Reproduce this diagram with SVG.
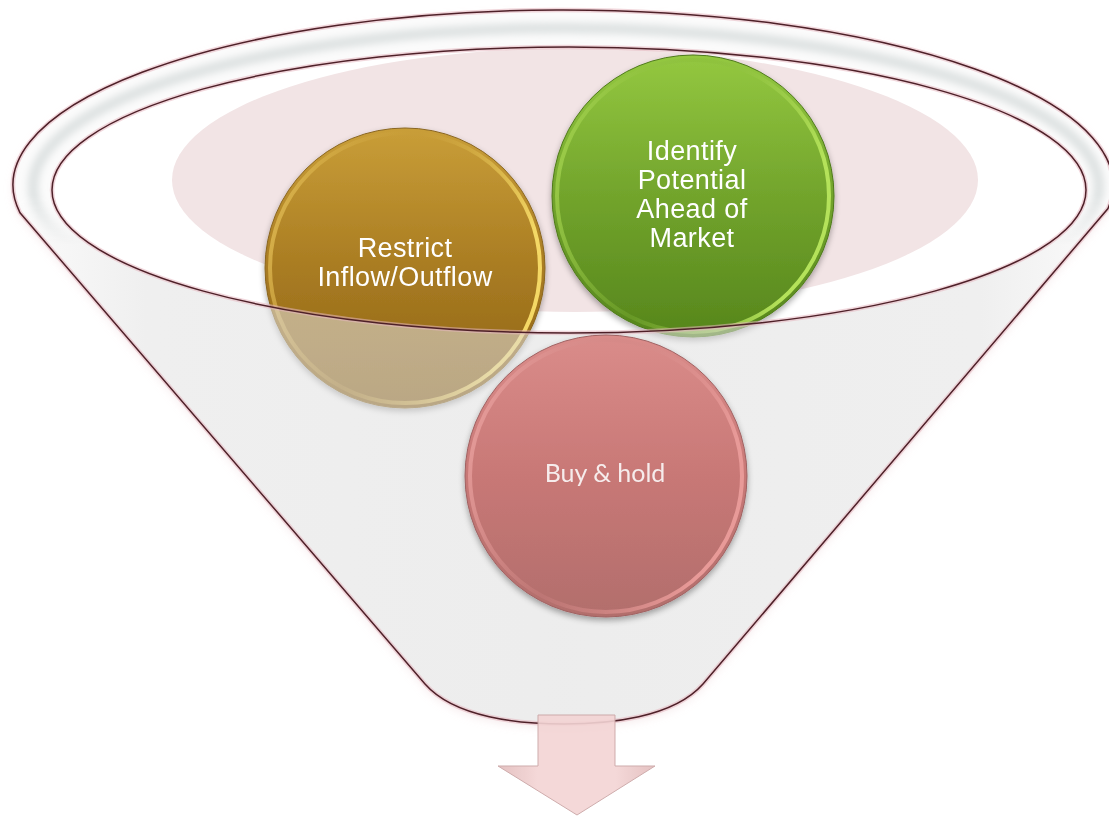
<svg xmlns="http://www.w3.org/2000/svg" width="1109" height="816" viewBox="0 0 1109 816">
  <defs>
    <style>
      .edge { fill: none; stroke: #4e2028; stroke-width: 1.5; }
      .glow { fill: none; stroke: #e6b7bf; stroke-width: 4.5; opacity: 0.55; }
      .label { font-family: "Liberation Sans", Arial, sans-serif; font-size: 27px; letter-spacing: 0.4px; fill: #ffffff; text-anchor: middle; }
      .label2 { font-family: Lato, "Open Sans", sans-serif; font-size: 25px; fill: #f6ecec; text-anchor: middle; }
    </style>

    <!-- funnel geometry -->
    <path id="funnelOutline" d="M20,212.8 A550,175 0 1 1 1108,208.5 L703,684 C673,718 608,724 564,724 C520,724 455,718 425,684 Z"/>
    <ellipse id="mouth" cx="569" cy="190" rx="517" ry="143"/>

    <clipPath id="mouthClip"><use href="#mouth"/></clipPath>
    <clipPath id="outlineClip"><use href="#funnelOutline"/></clipPath>

    <!-- the rim fades into the wall below the widest point -->
    <linearGradient id="rimFade" gradientUnits="userSpaceOnUse" x1="0" y1="195" x2="0" y2="245">
      <stop offset="0" stop-color="#ffffff"/>
      <stop offset="1" stop-color="#000000"/>
    </linearGradient>
    <mask id="rimMask" maskUnits="userSpaceOnUse" x="0" y="0" width="1109" height="816">
      <rect x="0" y="0" width="1109" height="816" fill="url(#rimFade)"/>
    </mask>

    <linearGradient id="bodyFill" x1="0" y1="0" x2="1" y2="0">
      <stop offset="0" stop-color="#f8f8f8"/>
      <stop offset="0.12" stop-color="#e2e2e2"/>
      <stop offset="0.5" stop-color="#dedede"/>
      <stop offset="0.88" stop-color="#e2e2e2"/>
      <stop offset="1" stop-color="#f8f8f8"/>
    </linearGradient>

    <linearGradient id="goldFill" x1="0" y1="0" x2="0" y2="1">
      <stop offset="0" stop-color="#c99e38"/>
      <stop offset="0.5" stop-color="#a97c22"/>
      <stop offset="1" stop-color="#8c6216"/>
    </linearGradient>
    <linearGradient id="goldRim" x1="0" y1="0" x2="1" y2="0.3">
      <stop offset="0" stop-color="#e2bd55"/>
      <stop offset="0.5" stop-color="#c79c38" stop-opacity="0.3"/>
      <stop offset="1" stop-color="#f4d865"/>
    </linearGradient>

    <linearGradient id="greenFill" x1="0" y1="0" x2="0" y2="1">
      <stop offset="0" stop-color="#94c840"/>
      <stop offset="0.5" stop-color="#72a42c"/>
      <stop offset="1" stop-color="#56861c"/>
    </linearGradient>
    <linearGradient id="greenRim" x1="0" y1="0" x2="1" y2="0.3">
      <stop offset="0" stop-color="#a6d550"/>
      <stop offset="0.5" stop-color="#86b83a" stop-opacity="0.3"/>
      <stop offset="1" stop-color="#b4e25a"/>
    </linearGradient>

    <linearGradient id="roseFill" x1="0" y1="0" x2="0" y2="1">
      <stop offset="0" stop-color="#da8c8a"/>
      <stop offset="0.5" stop-color="#c87876"/>
      <stop offset="1" stop-color="#b26e6c"/>
    </linearGradient>
    <linearGradient id="roseRim" x1="0" y1="0" x2="1" y2="0.3">
      <stop offset="0" stop-color="#eda4a2"/>
      <stop offset="0.5" stop-color="#d08684" stop-opacity="0.3"/>
      <stop offset="1" stop-color="#e89a98"/>
    </linearGradient>

    <linearGradient id="arrowFill" x1="0" y1="0" x2="1" y2="0">
      <stop offset="0" stop-color="#e2bcbc"/>
      <stop offset="0.25" stop-color="#f3d4d4"/>
      <stop offset="0.75" stop-color="#f3d4d4"/>
      <stop offset="1" stop-color="#e2bcbc"/>
    </linearGradient>

    <filter id="softShadow" x="-10%" y="-10%" width="120%" height="125%">
      <feGaussianBlur in="SourceAlpha" stdDeviation="3"/>
      <feOffset dy="3"/>
      <feComponentTransfer><feFuncA type="linear" slope="0.35"/></feComponentTransfer>
      <feMerge><feMergeNode/><feMergeNode in="SourceGraphic"/></feMerge>
    </filter>
    <filter id="funnelShadow" x="-5%" y="-5%" width="110%" height="110%">
      <feGaussianBlur in="SourceAlpha" stdDeviation="4"/>
      <feOffset dy="4"/>
      <feColorMatrix type="matrix" values="0 0 0 0 0.8  0 0 0 0 0.6  0 0 0 0 0.62  0 0 0 0.35 0"/>
      <feMerge><feMergeNode/><feMergeNode in="SourceGraphic"/></feMerge>
    </filter>
    <filter id="tubeBlur"><feGaussianBlur stdDeviation="3.5"/></filter>
  </defs>

  <rect width="1109" height="816" fill="#ffffff"/>

  <!-- shadow cast by the funnel outline -->
  <g id="funnel-shadow" filter="url(#funnelShadow)">
    <use href="#funnelOutline" fill="#ffffff"/>
  </g>

  <!-- inside of the funnel mouth -->
  <g id="mouth-inside" clip-path="url(#mouthClip)">
    <use href="#mouth" fill="#ffffff"/>
    <ellipse cx="575" cy="180" rx="403" ry="132" fill="#f2e4e5"/>
  </g>

  <!-- nodes sitting in the mouth -->
  <g id="node-restrict" filter="url(#softShadow)">
    <circle cx="405" cy="268" r="140" fill="url(#goldFill)" stroke="#8a6620" stroke-width="1"/>
    <circle cx="405" cy="268" r="135" fill="none" stroke="url(#goldRim)" stroke-width="4"/>
    <text class="label" x="405" y="257">Restrict</text>
    <text class="label" x="405" y="286">Inflow/Outflow</text>
  </g>

  <g id="node-identify" filter="url(#softShadow)">
    <circle cx="693" cy="196" r="141" fill="url(#greenFill)" stroke="#4e7a1a" stroke-width="1"/>
    <circle cx="693" cy="196" r="136" fill="none" stroke="url(#greenRim)" stroke-width="4"/>
    <text class="label" x="692" y="160">Identify</text>
    <text class="label" x="692" y="189">Potential</text>
    <text class="label" x="692" y="218">Ahead of</text>
    <text class="label" x="692" y="247">Market</text>
  </g>

  <!-- translucent front wall of the funnel -->
  <g id="funnel-body">
    <path d="M20,212.8 A550,175 0 1 1 1108,208.5 L703,684 C673,718 608,724 564,724 C520,724 455,718 425,684 Z M52,190 A517,143 0 1 0 1086,190 A517,143 0 1 0 52,190 Z" fill="url(#bodyFill)" fill-rule="evenodd" opacity="0.55"/>
  </g>

  <!-- rolled rim around the mouth -->
  <g id="funnel-rim" clip-path="url(#outlineClip)">
    <g mask="url(#rimMask)">
      <path d="M13,185 A550,175 0 1 1 1113,185 A550,175 0 1 1 13,185 Z M52,190 A517,143 0 1 0 1086,190 A517,143 0 1 0 52,190 Z" fill="#fbfbfb" fill-rule="evenodd"/>
      <ellipse cx="566" cy="187" rx="533" ry="159" fill="none" stroke="#dfe3e3" stroke-width="11" filter="url(#tubeBlur)"/>
    </g>
  </g>

  <!-- funnel outlines -->
  <g id="funnel-lines">
    <use href="#funnelOutline" class="glow"/>
    <use href="#mouth" class="glow"/>
    <use href="#funnelOutline" class="edge"/>
    <use href="#mouth" class="edge"/>
  </g>

  <!-- node dropping through the funnel -->
  <g id="node-buyhold" filter="url(#softShadow)">
    <circle cx="606" cy="476" r="141" fill="url(#roseFill)" stroke="#a06262" stroke-width="1"/>
    <circle cx="606" cy="476" r="136" fill="none" stroke="url(#roseRim)" stroke-width="4"/>
    <text class="label2" x="605" y="482">Buy &amp; hold</text>
  </g>

  <!-- output arrow -->
  <g id="connectors">
    <polygon points="538,715 615,715 615,766 655,766 577,815 498,766 538,766" fill="url(#arrowFill)" stroke="#c9a3a3" stroke-width="1" opacity="0.9"/>
  </g>
</svg>
